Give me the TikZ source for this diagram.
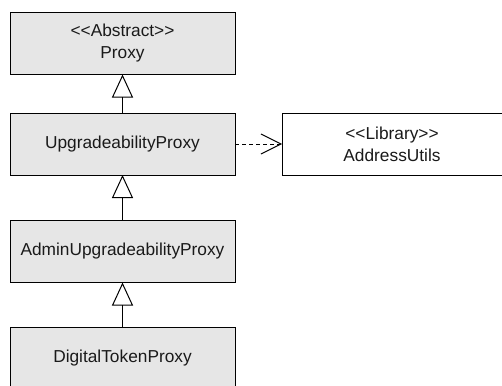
\documentclass[tikz,border=0pt]{standalone}
\usepackage{fontspec}
\setmainfont{Liberation Sans}
\usetikzlibrary{arrows.meta}
\definecolor{boxfill}{HTML}{E6E6E6}
\definecolor{txt}{HTML}{1A1A1A}
\newcommand{\llt}{<\kern0pt<}
\newcommand{\ggt}{>\kern0pt>}
\begin{document}
\begin{tikzpicture}[x=1pt,y=-1pt,
  cls/.style={draw=black, line width=1pt, fill=boxfill, minimum width=225pt, minimum height=62pt,
    inner sep=0pt, outer sep=0pt, align=center, text=txt,
    font=\fontsize{17.3}{22}\selectfont},
  lib/.style={cls, fill=white, minimum width=220pt},
  inherit/.style={draw=black, line width=1pt, -{Triangle[open, length=23pt, width=21pt]}},
  depend/.style={draw=black, line width=1pt, dash pattern=on 4pt off 3pt, -{Straight Barb[length=20pt, width=20pt, line width=1pt]}}
]
\clip (0,0) rectangle (502,385);
\node[cls] (proxy) at (122.5,43.5) {\llt Abstract\ggt\\Proxy};
\node[cls] (up) at (122.5,144) {UpgradeabilityProxy};
\node[cls] (admin) at (122.5,251.5) {AdminUpgradeabilityProxy};
\node[cls] (digital) at (122.5,358) {DigitalTokenProxy};
\node[lib] (addr) at (392,144) {\llt Library\ggt\\AddressUtils};
\draw[inherit] (up.north) -- (proxy.south);
\draw[inherit] (admin.north) -- (up.south);
\draw[inherit] (digital.north) -- (admin.south);
\draw[depend] (up.east) -- (addr.west);
\end{tikzpicture}
\end{document}
